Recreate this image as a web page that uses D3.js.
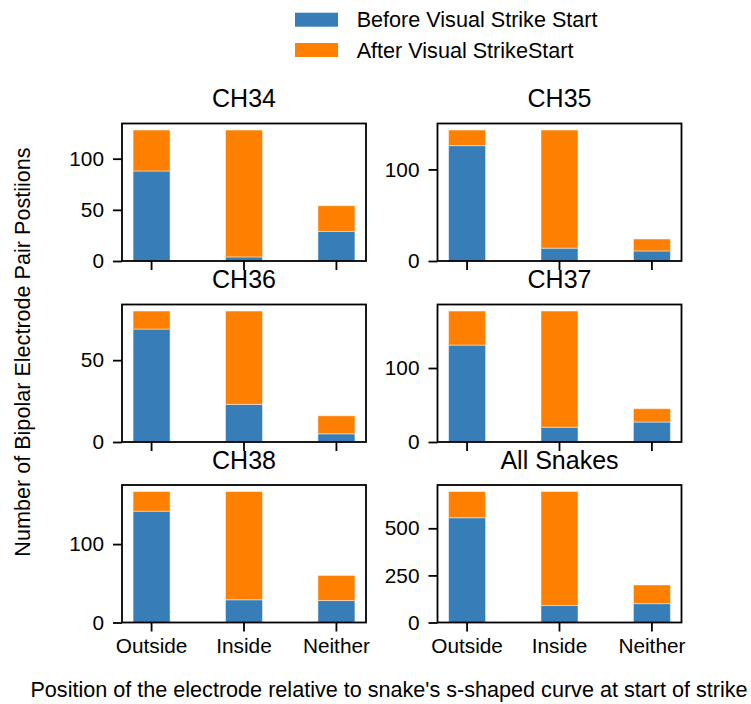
<!DOCTYPE html>
<html>
<head>
<meta charset="utf-8">
<script src="https://cdn.jsdelivr.net/npm/d3@7"></script>
<style>
  html, body { margin: 0; padding: 0; background: #fff; }
  svg { display: block; font-family: "Liberation Sans", Arial, sans-serif; }
</style>
</head>
<body>
<svg id="chart" width="751" height="704"></svg>
<script>
// Electrode-pair positions relative to the snake's s-shaped curve, per channel
const categories = ["Outside", "Inside", "Neither"];
const panelTitles = ["CH34", "CH35", "CH36", "CH37", "CH38", "All Snakes"];
const seriesNames = ["Before Visual Strike Start", "After Visual StrikeStart"];
const seriesColors = ["#377eb8", "#ff7f00"];

const beforeCounts = [
  [88, 4, 29],
  [126, 14, 11],
  [69, 23, 5],
  [131, 20, 27],
  [142, 29, 28],
  [556, 90, 100]
];
const afterCounts = [
  [40, 124, 25],
  [17, 129, 13],
  [11, 57, 11],
  [46, 157, 18],
  [25, 138, 32],
  [139, 605, 99]
];
const yTickValues = [
  [0, 50, 100],
  [0, 100],
  [0, 50],
  [0, 100],
  [0, 100],
  [0, 250, 500]
];

const svg = d3.select("#chart");
const colX = [122, 437.5];
const rowY = [123.5, 304.5, 485];
const panelW = 244, panelH = 137.5;
const tickLen = 9, fontSize = 20.8, labelSize = 21.6;

panelTitles.forEach((title, i) => {
  const x0 = colX[i % 2], y0 = rowY[Math.floor(i / 2)];
  const g = svg.append("g").attr("transform", `translate(${x0},${y0})`);

  const totals = categories.map((c, j) => beforeCounts[i][j] + afterCounts[i][j]);
  const y = d3.scaleLinear().domain([0, d3.max(totals) * 1.05]).range([panelH, 0]);
  const x = d3.scaleBand().domain(categories).range([0, panelW])
    .paddingInner(0.6).paddingOuter(0.12);

  const stacked = d3.stack().keys([0, 1])(
    categories.map((c, j) => ({ cat: c, 0: beforeCounts[i][j], 1: afterCounts[i][j] }))
  );

  stacked.forEach((layer, k) => {
    g.append("g").selectAll("rect").data(layer).join("rect")
      .attr("x", d => x(d.data.cat))
      .attr("width", x.bandwidth())
      .attr("y", d => y(d[1]))
      .attr("height", d => y(d[0]) - y(d[1]))
      .attr("fill", seriesColors[k])
      .attr("stroke", "#ffffff")
      .attr("stroke-opacity", 0.45)
      .attr("stroke-width", 1);
  });

  // frame
  g.append("rect").attr("x", 0).attr("y", 0).attr("width", panelW).attr("height", panelH)
    .attr("fill", "none").attr("stroke", "#000").attr("stroke-width", 1.8);

  // y axis
  const yAxis = d3.axisLeft(y).tickValues(yTickValues[i]).tickFormat(d3.format("d"))
    .tickSize(tickLen).tickPadding(9);
  const ya = g.append("g").call(yAxis);
  ya.select(".domain").remove();
  ya.selectAll(".tick line").attr("stroke", "#000").attr("stroke-width", 1.8);
  ya.selectAll(".tick text").attr("font-size", fontSize).attr("fill", "#000")
    .attr("font-family", "Liberation Sans, Arial, sans-serif");

  // x axis
  const xAxis = d3.axisBottom(x).tickSize(tickLen).tickPadding(7)
    .tickFormat(i >= 4 ? (d => d) : () => "");
  const xa = g.append("g").attr("transform", `translate(0,${panelH})`).call(xAxis);
  xa.select(".domain").remove();
  xa.selectAll(".tick line").attr("stroke", "#000").attr("stroke-width", 1.8);
  xa.selectAll(".tick text").attr("font-size", fontSize).attr("fill", "#000")
    .attr("font-family", "Liberation Sans, Arial, sans-serif");

  // title
  g.append("text").attr("x", panelW / 2).attr("y", -16.5)
    .attr("text-anchor", "middle").attr("font-size", 25).attr("fill", "#000")
    .text(title);
});

// shared axis labels
svg.append("text")
  .attr("transform", "translate(30,352) rotate(-90)")
  .attr("text-anchor", "middle").attr("font-size", labelSize).attr("fill", "#000")
  .text("Number of Bipolar Electrode Pair Postiions");

svg.append("text")
  .attr("x", 389).attr("y", 697)
  .attr("text-anchor", "middle").attr("font-size", labelSize).attr("fill", "#000")
  .text("Position of the electrode relative to snake's s-shaped curve at start of strike");

// legend
const legend = svg.append("g");
const legendY = [19.7, 50];
seriesNames.forEach((name, k) => {
  legend.append("rect").attr("x", 295).attr("y", legendY[k] - 7)
    .attr("width", 43).attr("height", 14).attr("fill", seriesColors[k]);
  legend.append("text").attr("x", 356.7).attr("y", legendY[k])
    .attr("dominant-baseline", "central").attr("font-size", labelSize).attr("fill", "#000")
    .text(name);
});
</script>
</body>
</html>
